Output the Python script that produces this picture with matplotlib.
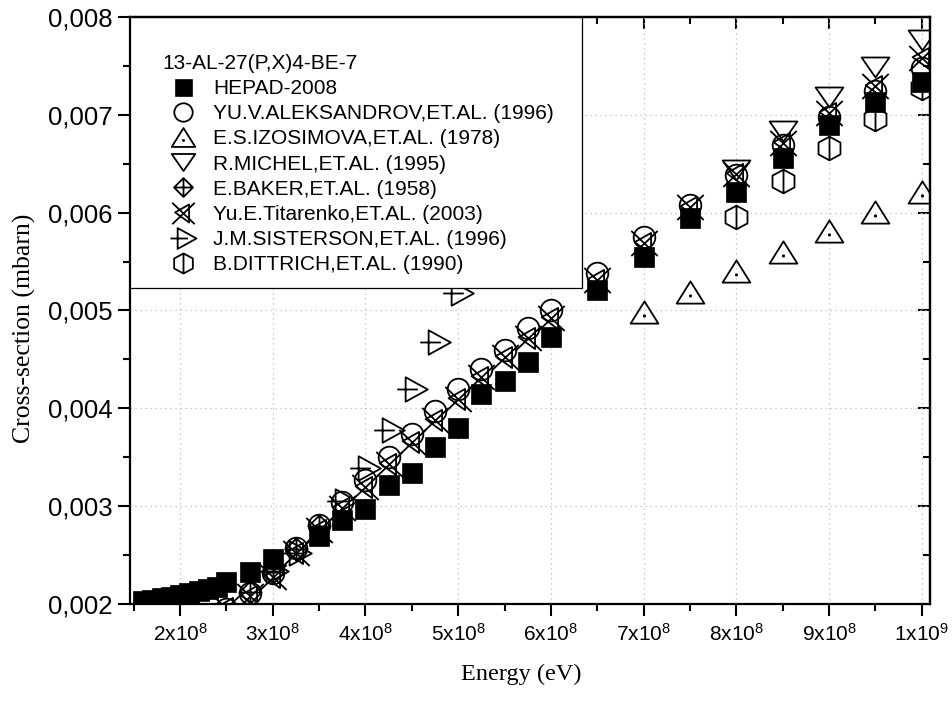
import numpy as np
import matplotlib
matplotlib.use("Agg")
import matplotlib.pyplot as plt
from matplotlib.path import Path
from matplotlib.patches import Rectangle
from matplotlib.ticker import MultipleLocator, FuncFormatter

plt.rcParams['font.family'] = ['Liberation Sans', 'DejaVu Sans']
plt.rcParams['mathtext.fontset'] = 'custom'
plt.rcParams['mathtext.rm'] = 'Liberation Sans'
plt.rcParams['mathtext.it'] = 'Liberation Sans'

# data (energy in eV, cross-section in mbarn)
hepad_e = [1.6, 1.7, 1.8, 1.9, 2.0, 2.1, 2.2, 2.3, 2.4, 2.5, 2.75, 3.0, 3.5, 3.75, 4.0, 4.25,
           4.5, 4.75, 5.0, 5.25, 5.5, 5.75, 6.0, 6.5, 7.0, 7.5, 8.0, 8.5, 9.0, 9.5, 10.0]
hepad_y = [0.00203, 0.00204, 0.00206, 0.00207, 0.00209, 0.00211, 0.00213, 0.00215, 0.00217,
           0.00222, 0.00233, 0.00246, 0.00270, 0.00286, 0.00297, 0.00322, 0.00334, 0.00360,
           0.00380, 0.00415, 0.00428, 0.00447, 0.00473, 0.00521, 0.00555, 0.00595, 0.00621,
           0.00656, 0.00690, 0.00713, 0.00734]

alek_e = [2.5, 2.75, 3.0, 3.25, 3.5, 3.75, 4.0, 4.25, 4.5, 4.75, 5.0, 5.25, 5.5, 5.75, 6.0,
          6.5, 7.0, 7.5, 8.0, 8.5, 9.0, 9.5, 10.0]
alek_y = [0.00195, 0.00211, 0.00232, 0.00257, 0.00281, 0.00304, 0.00327, 0.00350, 0.00374,
          0.00397, 0.00420, 0.00440, 0.00460, 0.00482, 0.00501, 0.00538, 0.00575, 0.00608,
          0.00638, 0.00669, 0.00698, 0.00724, 0.00748]

izos_e = [7.0, 7.5, 8.0, 8.5, 9.0, 9.5, 10.0]
izos_y = [0.00498, 0.00519, 0.00540, 0.00560, 0.00581, 0.00601, 0.00621]

michel_e = [8.0, 8.5, 9.0, 9.5, 10.0]
michel_y = [0.00644, 0.00683, 0.00718, 0.00749, 0.00776]

baker_e = [2.75, 3.0, 3.25, 3.5]
baker_y = [0.00212, 0.00233, 0.00256, 0.00280]

tita_e = [2.5, 2.75, 3.0, 3.25, 3.5, 3.75, 4.0, 4.25, 4.5, 4.75, 5.0, 5.25, 5.5, 5.75, 6.0,
          6.5, 7.0, 7.5, 8.0, 8.5, 9.0, 9.5, 10.0]
tita_y = [0.00196, 0.00208, 0.00228, 0.00252, 0.00276, 0.00298, 0.00320, 0.00343, 0.00366,
          0.00388, 0.00410, 0.00432, 0.00452, 0.00472, 0.00492, 0.00531, 0.00569, 0.00606,
          0.00640, 0.00671, 0.00702, 0.00729, 0.00758]

sist_e = [3.0, 3.25, 3.75, 4.0, 4.25, 4.5, 4.75, 5.0]
sist_y = [0.00234, 0.00252, 0.00305, 0.00339, 0.00378, 0.00420, 0.00468, 0.00518]

ditt_e = [8.0, 8.5, 9.0, 9.5, 10.0]
ditt_y = [0.00596, 0.00632, 0.00666, 0.00696, 0.00727]

labels = ["HEPAD-2008", "YU.V.ALEKSANDROV,ET.AL. (1996)", "E.S.IZOSIMOVA,ET.AL. (1978)",
          "R.MICHEL,ET.AL. (1995)", "E.BAKER,ET.AL. (1958)", "Yu.E.Titarenko,ET.AL. (2003)",
          "J.M.SISTERSON,ET.AL. (1996)", "B.DITTRICH,ET.AL. (1990)"]


def mk(polys):
    # polys: list of (points, closed)
    verts, codes = [], []
    for pts, closed in polys:
        verts.append(pts[0]); codes.append(Path.MOVETO)
        for p in pts[1:]:
            verts.append(p); codes.append(Path.LINETO)
        if closed:
            verts.append(pts[0]); codes.append(Path.CLOSEPOLY)
    return Path(verts, codes)


tri_dot = mk([([(0, 0.8), (-1, -0.8), (1, -0.8)], True),
              ([(-0.04, -0.29), (0.04, -0.29), (0.04, -0.21), (-0.04, -0.21)], True)])
tri_down = mk([([(0, -0.72), (-1, 0.72), (1, 0.72)], True)])
dia_plus = mk([([(0, 1), (1, 0), (0, -1), (-1, 0)], True),
               ([(-1, 0), (1, 0)], False), ([(0, 1), (0, -1)], False)])
x_tri = mk([([(-1, -0.95), (1, 0.95)], False), ([(-1, 0.95), (1, -0.95)], False),
            ([(0.5, 0.8), (0.5, -0.8), (-0.75, 0.1)], True)])
tri_line = mk([([(-0.45, 0.8), (-0.45, -0.8), (1, 0)], True), ([(-1, 0), (0.35, 0)], False)])
hex_line = mk([([(0, 1), (0.93, 0.5), (0.93, -0.5), (0, -1), (-0.93, -0.5), (-0.93, 0.5)], True),
               ([(0, 1), (0, -1)], False)])

fig = plt.figure(figsize=(9.53, 7.02), dpi=100)
ax = fig.add_axes([0.1364, 0.1396, 0.8395, 0.8362])

mew = 1.3
sc = 1e8
ax.plot(np.array(hepad_e) * sc, hepad_y, ls='none', marker='s', ms=14.4, mfc='black', mec='black',
        mew=0.5, label=labels[0])
ax.plot(np.array(alek_e) * sc, alek_y, ls='none', marker='o', ms=15.6, mfc='none', mec='black',
        mew=mew, label=labels[1])
ax.plot(np.array(izos_e) * sc, izos_y, ls='none', marker=tri_dot, ms=20, mfc='none', mec='black',
        mew=mew, label=labels[2])
ax.plot(np.array(michel_e) * sc, michel_y, ls='none', marker=tri_down, ms=20, mfc='none',
        mec='black', mew=mew, label=labels[3])
ax.plot(np.array(baker_e) * sc, baker_y, ls='none', marker=dia_plus, ms=16, mfc='none',
        mec='black', mew=mew, label=labels[4])
ax.plot(np.array(tita_e) * sc, tita_y, ls='none', marker=x_tri, ms=19, mfc='none', mec='black',
        mew=mew, label=labels[5])
ax.plot(np.array(sist_e) * sc, sist_y, ls='none', marker=tri_line, ms=22, mfc='none',
        mec='black', mew=mew, label=labels[6])
ax.plot(np.array(ditt_e) * sc, ditt_y, ls='none', marker=hex_line, ms=17, mfc='none',
        mec='black', mew=mew, label=labels[7])

ax.set_xlim(1.46e8, 1.009e9)
ax.set_ylim(0.002, 0.008)

ax.xaxis.set_major_locator(MultipleLocator(1e8))
ax.xaxis.set_minor_locator(MultipleLocator(5e7))
ax.yaxis.set_major_locator(MultipleLocator(0.001))
ax.yaxis.set_minor_locator(MultipleLocator(0.0005))


def xfmt(v, p):
    e = int(np.floor(np.log10(v) + 1e-9))
    m = int(round(v / 10 ** e))
    return "%dx10$^{\\mathrm{%d}}$" % (m, e)


ax.xaxis.set_major_formatter(FuncFormatter(xfmt))
ax.yaxis.set_major_formatter(FuncFormatter(lambda v, p: ("%.3f" % v).replace('.', ',')))

ax.tick_params(axis='both', which='major', direction='out', length=8.5, width=1.5)
ax.tick_params(axis='both', which='minor', direction='out', length=5, width=1.5)
ax.tick_params(axis='x', labelsize=15, pad=5)
ax.tick_params(axis='y', labelsize=18.5, pad=4)

for s in ax.spines.values():
    s.set_linewidth(1.6)
ax.spines['top'].set_zorder(6)

secx = ax.secondary_xaxis('top')
secx.xaxis.set_major_locator(MultipleLocator(1e8))
secx.xaxis.set_minor_locator(MultipleLocator(5e7))
secx.tick_params(which='major', direction='in', length=8.5, width=1.5, labeltop=False)
secx.tick_params(which='minor', direction='in', length=5, width=1.5)
secx.spines['top'].set_linewidth(1.6)
secy = ax.secondary_yaxis('right')
secy.yaxis.set_major_locator(MultipleLocator(0.001))
secy.yaxis.set_minor_locator(MultipleLocator(0.0005))
secy.tick_params(which='major', direction='in', length=8.5, width=1.5, labelright=False)
secy.tick_params(which='minor', direction='in', length=5, width=1.5)
secy.spines['right'].set_linewidth(1.6)

ax.grid(True, which='major', color='#bdbdbd', ls=(0, (1, 3)), lw=0.9)
ax.set_axisbelow(True)

ax.set_xlabel("Energy (eV)", family='Liberation Serif', fontsize=17.5)
ax.set_ylabel("Cross-section (mbarn)", family='Liberation Serif', fontsize=18.5)
ax.xaxis.set_label_coords(0.489, -0.102)
ax.yaxis.set_label_coords(-0.118, 0.47)

box = Rectangle((0, 0.538), 0.565, 0.462, transform=ax.transAxes, facecolor='white',
                edgecolor='black', lw=0.9, zorder=4, clip_on=False)
ax.add_patch(box)

leg = ax.legend(loc='upper left', bbox_to_anchor=(0.041, 0.937), frameon=False, fontsize=15,
                title="13-AL-27(P,X)4-BE-7", title_fontsize=15, alignment='left',
                borderpad=0, borderaxespad=0, handlelength=1.95, handletextpad=0.45,
                labelspacing=0.295, markerscale=0.85)
leg.set_zorder(5)

fig.savefig("out.png", dpi=100)
